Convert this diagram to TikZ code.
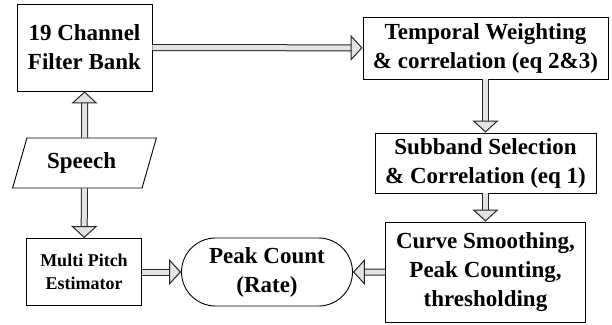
\documentclass[tikz,border=0pt]{standalone}
\usepackage{fontspec}
\setmainfont{Liberation Serif}
\usepackage{tikz}
\usetikzlibrary{arrows.meta}
\usetikzlibrary{positioning}
\usetikzlibrary{shapes.geometric,shapes.misc}
\tikzset{
    block/.style={
           rectangle,
           draw=black, line width=0.9pt,
           inner sep=0pt,
           align=center,
           font=\fontsize{23}{29}\selectfont\bfseries,
           },
    block2/.style={
           block,
           font=\fontsize{18}{23}\selectfont\bfseries,
           },
    fatarrow/.style={
           draw=black!85, line width=1pt,
           double=gray!22, double distance=5pt,
           -{Triangle[open,fill=gray!22,length=12pt,width=26pt]},
           },
}
\begin{document}
\begin{tikzpicture}[x=1pt,y=1pt]
 \useasboundingbox (0,0) rectangle (612,324);

 % First node: the filter bank
 \node[block,
 minimum width=135pt, minimum height=87pt] (FILTER) at (84.5,276.5)
 {%
19 Channel\\Filter Bank
 };

 % Next node: weighting
 \node[block,
 node distance=401pt,
 right of=FILTER,
 minimum width=245pt, minimum height=62pt,
 yshift=-0.5pt] (TEMPORAL)
 {%
Temporal Weighting\\\& correlation (eq 2\&3)
 };

 % SUBBAND
 \node[block,
 below of=TEMPORAL,
 node distance=115pt,
 minimum width=221pt, minimum height=60pt] (SUBBAND)
 {%
Subband Selection\\\& Correlation (eq 1)
 };

 % SMOOTHING
 \node[block,
 below of=SUBBAND,
 node distance=109pt,
 minimum width=200pt, minimum height=100pt] (SMOOTH)
 {%
Curve Smoothing,\\Peak Counting,\\thresholding
 };

 % PEAK COUNT
 \node[block,
 rounded rectangle,
 left of=SMOOTH,
 node distance=218.5pt,
 minimum width=171pt, minimum height=68pt] (PEAK)
 {%
Peak Count\\(Rate)
 };

 \node[block2,
 left of=PEAK,
 node distance=183pt,
 minimum width=115pt, minimum height=67pt] (PITCH)
 {%
Multi Pitch\\Estimator
 };

 % SPEECH input
 \node[block,
 trapezium,
 trapezium left angle=66, trapezium right angle=114,
 trapezium stretches=true,
 below of=FILTER,
 node distance=115.5pt,
 minimum width=144pt, minimum height=50pt] (SPEECH)
 {%
Speech
 };

 % draw the paths
 \draw[fatarrow] (FILTER) -- (TEMPORAL);
 \draw[fatarrow] (SPEECH) -- (FILTER);
 \draw[fatarrow] (SPEECH) -- (PITCH);
 \draw[fatarrow] (TEMPORAL) -- (SUBBAND);
 \draw[fatarrow] (SUBBAND) -- (SMOOTH);
 \draw[fatarrow] (SMOOTH) -- (PEAK);
 \draw[fatarrow] (PITCH) -- (PEAK);
\end{tikzpicture}
\end{document}
